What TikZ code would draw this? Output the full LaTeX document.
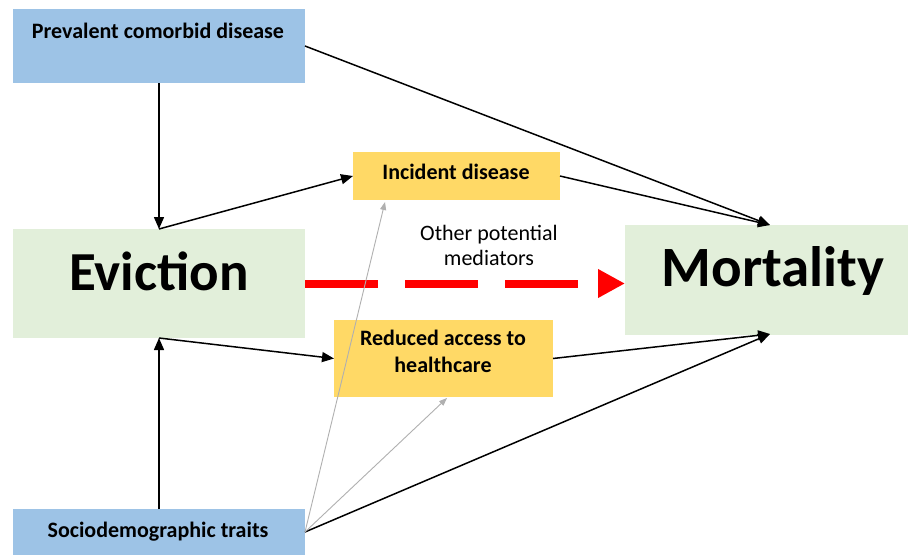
\documentclass[tikz,border=0pt]{standalone}
\usepackage{fontspec}
\setmainfont{Carlito}
\usetikzlibrary{arrows.meta}
\definecolor{boxblue}{HTML}{9DC3E6}
\definecolor{boxgreen}{HTML}{E2EFDA}
\definecolor{boxyellow}{HTML}{FFD966}
\definecolor{thingray}{HTML}{B0B0B0}
\tikzset{
  box/.style={draw=none, inner sep=0pt, outer sep=0pt, anchor=north west},
  lbl/.style={inner sep=0pt, anchor=base, text=black},
  smallbold/.style={font=\bfseries\fontsize{22}{27}\selectfont},
  bigbold/.style={font=\bfseries\fontsize{55}{60}\selectfont},
  arr/.style={line width=1.5pt, -{Triangle[length=12pt,width=10pt]}},
  grayarr/.style={line width=0.9pt, draw=thingray, -{Triangle[length=8pt,width=6pt]}, color=thingray},
  redarr/.style={line width=8pt, draw=red, dash pattern=on 73pt off 27pt, -{Triangle[length=27pt,width=27pt]}, color=red}
}
\begin{document}
\begin{tikzpicture}[x=1pt,y=-1pt]
\useasboundingbox (0,0) rectangle (908,555);
\fill[white] (0,0) rectangle (908,555);

% boxes
\node[box, fill=boxblue, minimum width=292pt, minimum height=74pt] (prev) at (13,9) {};
\node[box, fill=boxgreen, minimum width=292pt, minimum height=109pt] (ev) at (13,229) {};
\node[box, fill=boxyellow, minimum width=207pt, minimum height=48pt] (inc) at (353,152) {};
\node[box, fill=boxyellow, minimum width=219pt, minimum height=77pt] (red) at (334,320) {};
\node[box, fill=boxgreen, minimum width=283pt, minimum height=110pt] (mort) at (625,225) {};
\node[box, fill=boxblue, minimum width=292pt, minimum height=46pt] (soc) at (13,509) {};

% texts
\node[lbl, smallbold] (prevt) at (158,38) {Prevalent comorbid disease};
\node[lbl, bigbold] (evt) at (159,290) {Eviction};
\node[lbl, smallbold] (inct) at (456,179) {Incident disease};
\node[lbl, smallbold] (redt1) at (443,345) {Reduced access to};
\node[lbl, smallbold] (redt2) at (443,372) {healthcare};
\node[lbl, font=\bfseries\fontsize{57}{60}\selectfont] (mortt) at (773,286) {Mortality};
\node[lbl, smallbold] (soct) at (158,537) {Sociodemographic traits};
\node[lbl, font=\fontsize{22}{25}\selectfont] (oth1) at (489,240) {Other potential};
\node[lbl, font=\fontsize{22}{25}\selectfont] (oth2) at (489,265) {mediators};

% coordinates for free ends
\coordinate (mtop) at (770,225);
\coordinate (mbot) at (770,334);
\coordinate (gtip1) at (385,202);
\coordinate (gtip2) at (447,398);

% red dashed arrow
\draw[redarr] (ev.east) -- (ev.east -| mort.west);

% black arrows
\draw[arr] (prev.south) -- (ev.north);
\draw[arr] (ev.north) -- (inc.west);
\draw[arr] (prev.east) -- (mtop);
\draw[arr] (inc.east) -- (mtop);
\draw[arr] (soc.north) -- (ev.south);
\draw[arr] (ev.south) -- (red.west);
\draw[arr] (red.east) -- (mbot);
\draw[arr] (soc.east) -- (mbot);

% gray arrows
\draw[grayarr] (soc.east) -- (gtip1);
\draw[grayarr] (soc.east) -- (gtip2);
\end{tikzpicture}
\end{document}
